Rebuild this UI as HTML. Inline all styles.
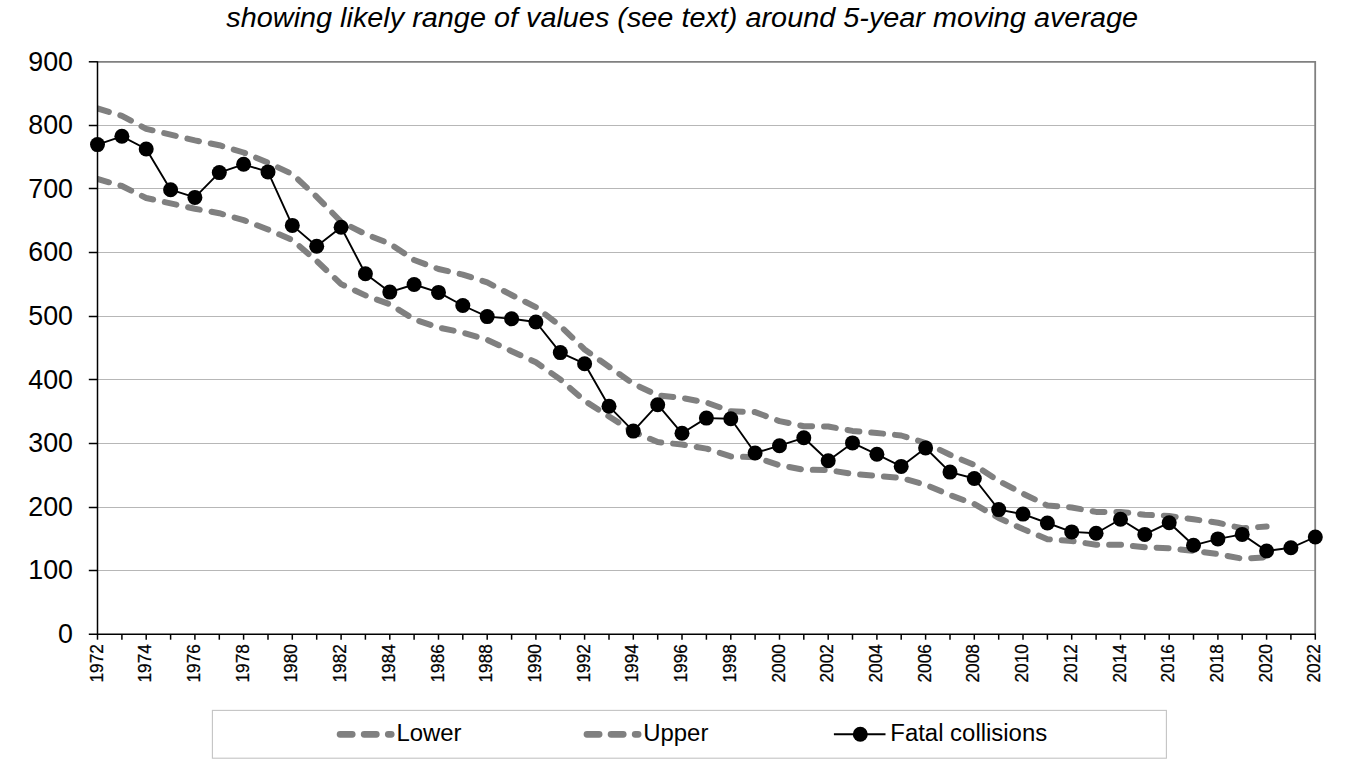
<!DOCTYPE html>
<html lang="en"><head><meta charset="utf-8"><title>Fatal collisions chart</title>
<style>
html,body{margin:0;padding:0;background:#fff;}
svg{display:block;font-family:"Liberation Sans",Arial,sans-serif;fill:#000;}
</style></head><body>
<svg width="1362" height="778" viewBox="0 0 1362 778">
<rect width="1362" height="778" fill="#fff"/>
<text transform="translate(682.2,27.4) scale(1.041,1)" font-size="27.7" font-style="italic" text-anchor="middle">showing likely range of values (see text) around 5-year moving average</text>
<g stroke="#b7b7b7" stroke-width="1" fill="none">
<line x1="97.5" x2="1315" y1="570.5" y2="570.5"/>
<line x1="97.5" x2="1315" y1="507.5" y2="507.5"/>
<line x1="97.5" x2="1315" y1="443.5" y2="443.5"/>
<line x1="97.5" x2="1315" y1="379.5" y2="379.5"/>
<line x1="97.5" x2="1315" y1="316.5" y2="316.5"/>
<line x1="97.5" x2="1315" y1="252.5" y2="252.5"/>
<line x1="97.5" x2="1315" y1="188.5" y2="188.5"/>
<line x1="97.5" x2="1315" y1="125.5" y2="125.5"/>
</g>
<path d="M97.5,61.9 H1315.2 V634.3" fill="none" stroke="#808080" stroke-width="1.8"/>
<defs><clipPath id="pc"><rect x="97.5" y="55" width="1225" height="585"/></clipPath></defs>
<g clip-path="url(#pc)" fill="none" stroke="#808080" stroke-width="6" stroke-linecap="round" stroke-linejoin="round" stroke-dasharray="11.9 11.94">
<path d="M97.5,179.0 L121.9,186.0 L146.2,198.0 L170.6,203.4 L194.9,208.8 L219.3,213.2 L243.6,220.1 L268.0,229.5 L292.3,240.0 L316.7,261.0 L341.1,284.1 L365.4,295.4 L389.8,304.3 L414.1,319.3 L438.5,327.5 L462.8,332.6 L487.2,339.8 L511.6,351.2 L535.9,362.3 L560.3,379.4 L584.6,400.8 L609.0,416.5 L633.3,431.8 L657.7,442.1 L682.0,444.5 L706.4,448.6 L730.8,456.4 L755.1,457.2 L779.5,465.2 L803.8,469.8 L828.2,470.0 L852.5,473.9 L876.9,475.8 L901.2,478.0 L925.6,484.7 L950.0,495.1 L974.3,504.0 L998.7,518.0 L1023.0,529.1 L1047.4,539.2 L1071.7,541.0 L1096.1,544.8 L1120.5,544.7 L1144.8,547.2 L1169.2,548.2 L1193.5,551.0 L1217.9,554.1 L1242.2,558.7 L1266.6,557.2"/>
<path d="M97.5,108.4 L121.9,115.9 L146.2,128.8 L170.6,134.6 L194.9,140.4 L219.3,145.2 L243.6,152.5 L268.0,162.7 L292.3,174.1 L316.7,196.8 L341.1,221.8 L365.4,234.1 L389.8,243.7 L414.1,260.0 L438.5,269.0 L462.8,274.6 L487.2,282.4 L511.6,295.0 L535.9,307.1 L560.3,325.9 L584.6,349.5 L609.0,366.8 L633.3,383.8 L657.7,395.3 L682.0,397.9 L706.4,402.5 L730.8,411.2 L755.1,412.1 L779.5,421.1 L803.8,426.2 L828.2,426.5 L852.5,430.9 L876.9,433.0 L901.2,435.5 L925.6,443.0 L950.0,454.8 L974.3,464.9 L998.7,480.9 L1023.0,493.7 L1047.4,505.5 L1071.7,507.5 L1096.1,511.9 L1120.5,511.9 L1144.8,514.7 L1169.2,516.0 L1193.5,519.3 L1217.9,522.8 L1242.2,528.3 L1266.6,526.5"/>
</g>
<g stroke="#000" stroke-width="1.5" fill="none">
<path d="M97.5,61.2 V634.3 M88.8,634.3 H1316"/>
<line x1="88.8" x2="97.5" y1="570.5" y2="570.5"/>
<line x1="88.8" x2="97.5" y1="507.5" y2="507.5"/>
<line x1="88.8" x2="97.5" y1="443.5" y2="443.5"/>
<line x1="88.8" x2="97.5" y1="379.5" y2="379.5"/>
<line x1="88.8" x2="97.5" y1="316.5" y2="316.5"/>
<line x1="88.8" x2="97.5" y1="252.5" y2="252.5"/>
<line x1="88.8" x2="97.5" y1="188.5" y2="188.5"/>
<line x1="88.8" x2="97.5" y1="125.5" y2="125.5"/>
<line x1="88.8" x2="97.5" y1="61.8" y2="61.8"/>
<line x1="97.5" x2="97.5" y1="634.3" y2="639.7"/>
<line x1="121.9" x2="121.9" y1="634.3" y2="639.7"/>
<line x1="146.2" x2="146.2" y1="634.3" y2="639.7"/>
<line x1="170.6" x2="170.6" y1="634.3" y2="639.7"/>
<line x1="194.9" x2="194.9" y1="634.3" y2="639.7"/>
<line x1="219.3" x2="219.3" y1="634.3" y2="639.7"/>
<line x1="243.6" x2="243.6" y1="634.3" y2="639.7"/>
<line x1="268.0" x2="268.0" y1="634.3" y2="639.7"/>
<line x1="292.3" x2="292.3" y1="634.3" y2="639.7"/>
<line x1="316.7" x2="316.7" y1="634.3" y2="639.7"/>
<line x1="341.1" x2="341.1" y1="634.3" y2="639.7"/>
<line x1="365.4" x2="365.4" y1="634.3" y2="639.7"/>
<line x1="389.8" x2="389.8" y1="634.3" y2="639.7"/>
<line x1="414.1" x2="414.1" y1="634.3" y2="639.7"/>
<line x1="438.5" x2="438.5" y1="634.3" y2="639.7"/>
<line x1="462.8" x2="462.8" y1="634.3" y2="639.7"/>
<line x1="487.2" x2="487.2" y1="634.3" y2="639.7"/>
<line x1="511.6" x2="511.6" y1="634.3" y2="639.7"/>
<line x1="535.9" x2="535.9" y1="634.3" y2="639.7"/>
<line x1="560.3" x2="560.3" y1="634.3" y2="639.7"/>
<line x1="584.6" x2="584.6" y1="634.3" y2="639.7"/>
<line x1="609.0" x2="609.0" y1="634.3" y2="639.7"/>
<line x1="633.3" x2="633.3" y1="634.3" y2="639.7"/>
<line x1="657.7" x2="657.7" y1="634.3" y2="639.7"/>
<line x1="682.0" x2="682.0" y1="634.3" y2="639.7"/>
<line x1="706.4" x2="706.4" y1="634.3" y2="639.7"/>
<line x1="730.8" x2="730.8" y1="634.3" y2="639.7"/>
<line x1="755.1" x2="755.1" y1="634.3" y2="639.7"/>
<line x1="779.5" x2="779.5" y1="634.3" y2="639.7"/>
<line x1="803.8" x2="803.8" y1="634.3" y2="639.7"/>
<line x1="828.2" x2="828.2" y1="634.3" y2="639.7"/>
<line x1="852.5" x2="852.5" y1="634.3" y2="639.7"/>
<line x1="876.9" x2="876.9" y1="634.3" y2="639.7"/>
<line x1="901.2" x2="901.2" y1="634.3" y2="639.7"/>
<line x1="925.6" x2="925.6" y1="634.3" y2="639.7"/>
<line x1="950.0" x2="950.0" y1="634.3" y2="639.7"/>
<line x1="974.3" x2="974.3" y1="634.3" y2="639.7"/>
<line x1="998.7" x2="998.7" y1="634.3" y2="639.7"/>
<line x1="1023.0" x2="1023.0" y1="634.3" y2="639.7"/>
<line x1="1047.4" x2="1047.4" y1="634.3" y2="639.7"/>
<line x1="1071.7" x2="1071.7" y1="634.3" y2="639.7"/>
<line x1="1096.1" x2="1096.1" y1="634.3" y2="639.7"/>
<line x1="1120.5" x2="1120.5" y1="634.3" y2="639.7"/>
<line x1="1144.8" x2="1144.8" y1="634.3" y2="639.7"/>
<line x1="1169.2" x2="1169.2" y1="634.3" y2="639.7"/>
<line x1="1193.5" x2="1193.5" y1="634.3" y2="639.7"/>
<line x1="1217.9" x2="1217.9" y1="634.3" y2="639.7"/>
<line x1="1242.2" x2="1242.2" y1="634.3" y2="639.7"/>
<line x1="1266.6" x2="1266.6" y1="634.3" y2="639.7"/>
<line x1="1290.9" x2="1290.9" y1="634.3" y2="639.7"/>
<line x1="1315.3" x2="1315.3" y1="634.3" y2="639.7"/>
</g>
<path d="M97.5,144.6 L121.9,136.3 L146.2,149.0 L170.6,189.7 L194.9,197.4 L219.3,172.6 L243.6,164.3 L268.0,171.9 L292.3,225.4 L316.7,246.3 L341.1,227.3 L365.4,273.7 L389.8,292.1 L414.1,284.5 L438.5,292.4 L462.8,305.5 L487.2,316.6 L511.6,318.8 L535.9,322.0 L560.3,352.6 L584.6,363.7 L609.0,406.3 L633.3,431.1 L657.7,404.7 L682.0,433.3 L706.4,418.1 L730.8,418.7 L755.1,453.0 L779.5,445.7 L803.8,437.8 L828.2,460.7 L852.5,442.9 L876.9,454.3 L901.2,466.4 L925.6,448.0 L950.0,472.1 L974.3,478.5 L998.7,509.6 L1023.0,514.1 L1047.4,523.0 L1071.7,531.9 L1096.1,533.2 L1120.5,519.2 L1144.8,534.4 L1169.2,522.7 L1193.5,545.3 L1217.9,538.9 L1242.2,534.4 L1266.6,551.0 L1290.9,547.8 L1315.3,537.0" fill="none" stroke="#000" stroke-width="1.9" stroke-linejoin="round"/>
<g fill="#000">
<circle cx="97.5" cy="144.6" r="7.5"/>
<circle cx="121.9" cy="136.3" r="7.5"/>
<circle cx="146.2" cy="149.0" r="7.5"/>
<circle cx="170.6" cy="189.7" r="7.5"/>
<circle cx="194.9" cy="197.4" r="7.5"/>
<circle cx="219.3" cy="172.6" r="7.5"/>
<circle cx="243.6" cy="164.3" r="7.5"/>
<circle cx="268.0" cy="171.9" r="7.5"/>
<circle cx="292.3" cy="225.4" r="7.5"/>
<circle cx="316.7" cy="246.3" r="7.5"/>
<circle cx="341.1" cy="227.3" r="7.5"/>
<circle cx="365.4" cy="273.7" r="7.5"/>
<circle cx="389.8" cy="292.1" r="7.5"/>
<circle cx="414.1" cy="284.5" r="7.5"/>
<circle cx="438.5" cy="292.4" r="7.5"/>
<circle cx="462.8" cy="305.5" r="7.5"/>
<circle cx="487.2" cy="316.6" r="7.5"/>
<circle cx="511.6" cy="318.8" r="7.5"/>
<circle cx="535.9" cy="322.0" r="7.5"/>
<circle cx="560.3" cy="352.6" r="7.5"/>
<circle cx="584.6" cy="363.7" r="7.5"/>
<circle cx="609.0" cy="406.3" r="7.5"/>
<circle cx="633.3" cy="431.1" r="7.5"/>
<circle cx="657.7" cy="404.7" r="7.5"/>
<circle cx="682.0" cy="433.3" r="7.5"/>
<circle cx="706.4" cy="418.1" r="7.5"/>
<circle cx="730.8" cy="418.7" r="7.5"/>
<circle cx="755.1" cy="453.0" r="7.5"/>
<circle cx="779.5" cy="445.7" r="7.5"/>
<circle cx="803.8" cy="437.8" r="7.5"/>
<circle cx="828.2" cy="460.7" r="7.5"/>
<circle cx="852.5" cy="442.9" r="7.5"/>
<circle cx="876.9" cy="454.3" r="7.5"/>
<circle cx="901.2" cy="466.4" r="7.5"/>
<circle cx="925.6" cy="448.0" r="7.5"/>
<circle cx="950.0" cy="472.1" r="7.5"/>
<circle cx="974.3" cy="478.5" r="7.5"/>
<circle cx="998.7" cy="509.6" r="7.5"/>
<circle cx="1023.0" cy="514.1" r="7.5"/>
<circle cx="1047.4" cy="523.0" r="7.5"/>
<circle cx="1071.7" cy="531.9" r="7.5"/>
<circle cx="1096.1" cy="533.2" r="7.5"/>
<circle cx="1120.5" cy="519.2" r="7.5"/>
<circle cx="1144.8" cy="534.4" r="7.5"/>
<circle cx="1169.2" cy="522.7" r="7.5"/>
<circle cx="1193.5" cy="545.3" r="7.5"/>
<circle cx="1217.9" cy="538.9" r="7.5"/>
<circle cx="1242.2" cy="534.4" r="7.5"/>
<circle cx="1266.6" cy="551.0" r="7.5"/>
<circle cx="1290.9" cy="547.8" r="7.5"/>
<circle cx="1315.3" cy="537.0" r="7.5"/>
</g>
<g font-size="28.4" text-anchor="end">
<text transform="translate(73.0,642.9) scale(.944,1)">0</text>
<text transform="translate(73.0,579.3) scale(.944,1)">100</text>
<text transform="translate(73.0,515.7) scale(.944,1)">200</text>
<text transform="translate(73.0,452.1) scale(.944,1)">300</text>
<text transform="translate(73.0,388.5) scale(.944,1)">400</text>
<text transform="translate(73.0,324.9) scale(.944,1)">500</text>
<text transform="translate(73.0,261.3) scale(.944,1)">600</text>
<text transform="translate(73.0,197.7) scale(.944,1)">700</text>
<text transform="translate(73.0,134.1) scale(.944,1)">800</text>
<text transform="translate(73.0,70.5) scale(.944,1)">900</text>
</g>
<g font-size="18.3" stroke="#000" stroke-width="0.25">
<text transform="translate(102.6,682.5) rotate(-90)" textLength="38.4" lengthAdjust="spacingAndGlyphs">1972</text>
<text transform="translate(151.3,682.5) rotate(-90)" textLength="38.4" lengthAdjust="spacingAndGlyphs">1974</text>
<text transform="translate(200.0,682.5) rotate(-90)" textLength="38.4" lengthAdjust="spacingAndGlyphs">1976</text>
<text transform="translate(248.7,682.5) rotate(-90)" textLength="38.4" lengthAdjust="spacingAndGlyphs">1978</text>
<text transform="translate(297.4,682.5) rotate(-90)" textLength="38.4" lengthAdjust="spacingAndGlyphs">1980</text>
<text transform="translate(346.2,682.5) rotate(-90)" textLength="38.4" lengthAdjust="spacingAndGlyphs">1982</text>
<text transform="translate(394.9,682.5) rotate(-90)" textLength="38.4" lengthAdjust="spacingAndGlyphs">1984</text>
<text transform="translate(443.6,682.5) rotate(-90)" textLength="38.4" lengthAdjust="spacingAndGlyphs">1986</text>
<text transform="translate(492.3,682.5) rotate(-90)" textLength="38.4" lengthAdjust="spacingAndGlyphs">1988</text>
<text transform="translate(541.0,682.5) rotate(-90)" textLength="38.4" lengthAdjust="spacingAndGlyphs">1990</text>
<text transform="translate(589.7,682.5) rotate(-90)" textLength="38.4" lengthAdjust="spacingAndGlyphs">1992</text>
<text transform="translate(638.4,682.5) rotate(-90)" textLength="38.4" lengthAdjust="spacingAndGlyphs">1994</text>
<text transform="translate(687.1,682.5) rotate(-90)" textLength="38.4" lengthAdjust="spacingAndGlyphs">1996</text>
<text transform="translate(735.9,682.5) rotate(-90)" textLength="38.4" lengthAdjust="spacingAndGlyphs">1998</text>
<text transform="translate(784.6,682.5) rotate(-90)" textLength="38.4" lengthAdjust="spacingAndGlyphs">2000</text>
<text transform="translate(833.3,682.5) rotate(-90)" textLength="38.4" lengthAdjust="spacingAndGlyphs">2002</text>
<text transform="translate(882.0,682.5) rotate(-90)" textLength="38.4" lengthAdjust="spacingAndGlyphs">2004</text>
<text transform="translate(930.7,682.5) rotate(-90)" textLength="38.4" lengthAdjust="spacingAndGlyphs">2006</text>
<text transform="translate(979.4,682.5) rotate(-90)" textLength="38.4" lengthAdjust="spacingAndGlyphs">2008</text>
<text transform="translate(1028.1,682.5) rotate(-90)" textLength="38.4" lengthAdjust="spacingAndGlyphs">2010</text>
<text transform="translate(1076.8,682.5) rotate(-90)" textLength="38.4" lengthAdjust="spacingAndGlyphs">2012</text>
<text transform="translate(1125.6,682.5) rotate(-90)" textLength="38.4" lengthAdjust="spacingAndGlyphs">2014</text>
<text transform="translate(1174.3,682.5) rotate(-90)" textLength="38.4" lengthAdjust="spacingAndGlyphs">2016</text>
<text transform="translate(1223.0,682.5) rotate(-90)" textLength="38.4" lengthAdjust="spacingAndGlyphs">2018</text>
<text transform="translate(1271.7,682.5) rotate(-90)" textLength="38.4" lengthAdjust="spacingAndGlyphs">2020</text>
<text transform="translate(1320.4,682.5) rotate(-90)" textLength="38.4" lengthAdjust="spacingAndGlyphs">2022</text>
</g>
<rect x="212.4" y="710.4" width="954" height="47.8" fill="#fff" stroke="#c4c4c4" stroke-width="1.1"/>
<g fill="none" stroke="#808080" stroke-width="6.8" stroke-linecap="round" stroke-dasharray="12.1 12">
<path d="M340.1,734.3 H391.2"/>
<path d="M587,734.3 H638.1"/>
</g>
<path d="M833.9,734.2 H885.5" stroke="#000" stroke-width="1.9" fill="none"/><circle cx="860.3" cy="734.2" r="7.5"/>
<g font-size="24.5">
<text transform="translate(396.4,740.7) scale(.977,1)">Lower</text>
<text transform="translate(643.2,740.7) scale(.977,1)">Upper</text>
<text transform="translate(890.3,740.7) scale(.977,1)">Fatal collisions</text>
</g>
</svg></body></html>
